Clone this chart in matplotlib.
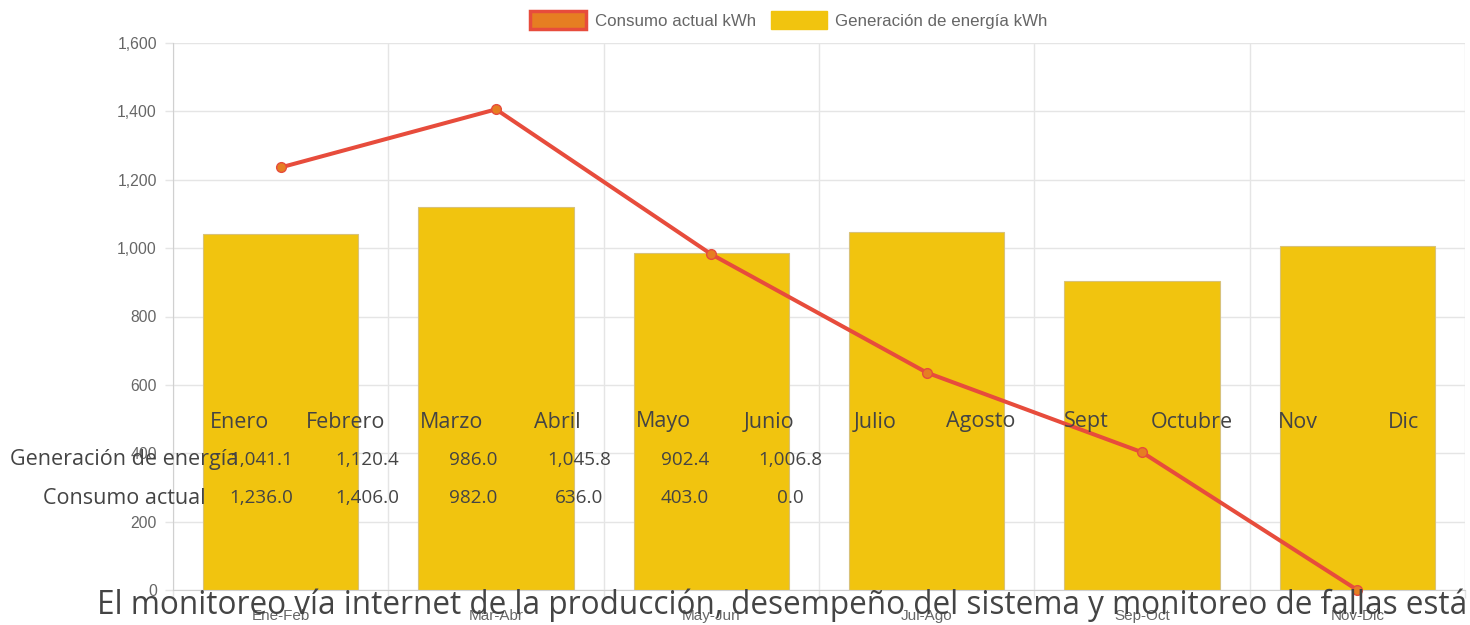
import matplotlib
matplotlib.use("Agg")
import matplotlib.pyplot as plt
from matplotlib.patches import Patch
import numpy as np

# ---- data ----
periodos = ["Ene-Feb", "Mar-Abr", "May-Jun", "Jul-Ago", "Sep-Oct", "Nov-Dic"]
generacion = [1041.1, 1120.4, 986.0, 1045.8, 902.4, 1006.8]
consumo = [1236.0, 1406.0, 982.0, 636.0, 403.0, 0.0]
meses = ["Enero", "Febrero", "Marzo", "Abril", "Mayo", "Junio",
         "Julio", "Agosto", "Sept", "Octubre", "Nov", "Dic"]
fila_labels = ["Generación de energía", "Consumo actual"]
y_ticks = [0, 200, 400, 600, 800, 1000, 1200, 1400, 1600]
leyenda = ["Consumo actual kWh", "Generación de energía kWh"]
nota = "El monitoreo vía internet de la producción, desempeño del sistema y monitoreo de fallas está"

W, H = 1470, 625
fig = plt.figure(figsize=(W / 100, H / 100), dpi=100)
ax = fig.add_axes([173 / W, 1 - 590 / H, (1465 - 173) / W, (590 - 43) / H])

TICK_FONT = "Liberation Sans"
GRID = "#e5e5e5"

x = np.arange(len(periodos))
ax.bar(x, generacion, width=0.72, color="#F1C40F", edgecolor="#d8c27a",
       linewidth=0.8, zorder=2)
ax.plot(x, consumo, color="#E74C3C", linewidth=2.9, marker="o", markersize=7,
        markerfacecolor="#E67E22", markeredgecolor="#E74C3C", markeredgewidth=1,
        zorder=3, clip_on=False)

ax.set_xlim(-0.5, len(periodos) - 0.5)
ax.set_ylim(0, 1600)
ax.set_yticks(y_ticks)
ax.set_yticklabels([f"{v:,}" for v in y_ticks], fontfamily=TICK_FONT,
                   fontsize=11.3, color="#666666")
ax.set_xticks(x)
ax.set_xticklabels(periodos, fontfamily=TICK_FONT, fontsize=11, color="#666666")
ax.set_xticks(np.arange(len(periodos) + 1) - 0.5, minor=True)
ax.tick_params(axis="x", which="major", length=0, pad=14)
ax.tick_params(axis="x", which="minor", length=5.8, color=GRID, width=1)
ax.tick_params(axis="y", length=5.8, color=GRID, width=1, pad=5.8)
ax.grid(True, axis="y", color=GRID, linewidth=1, zorder=0)
ax.grid(True, axis="x", which="minor", color=GRID, linewidth=1, zorder=0)
for s in ["top", "right"]:
    ax.spines[s].set_visible(False)
ax.spines["left"].set_color("#d0d0d0")
ax.spines["bottom"].set_color("#d0d0d0")

# legend
handles = [Patch(facecolor="#E67E22", edgecolor="#E74C3C", linewidth=2.5),
           Patch(facecolor="#F1C40F", edgecolor="#F1C40F", linewidth=1)]
fig.legend(handles, leyenda, loc="center", bbox_to_anchor=(789 / W, 1 - 20 / H),
           ncol=2, frameon=False, prop={"family": TICK_FONT, "size": 12.2},
           labelcolor="#666666", handlelength=3.3, handleheight=1.2,
           handletextpad=0.5, columnspacing=0.9)

# overlay table text
TF = "Open Sans"
TC = "#444444"
TS_TXT = 15.5
TS_NUM = 13.6


def fx(px):
    return px / W


def fy(py):
    return 1 - py / H


for i, m in enumerate(meses):
    fig.text(fx(240 + 105.8 * i), fy(422), m, ha="center", va="center",
             fontfamily=TF, fontsize=TS_TXT, color=TC, zorder=10)
rows = [generacion, consumo]
for r, (lab, vals) in enumerate(zip(fila_labels, rows)):
    yy = 460 + 38 * r
    fig.text(fx(124), fy(yy), lab, ha="center", va="center",
             fontfamily=TF, fontsize=TS_TXT, color=TC, zorder=10)
    for i, v in enumerate(vals):
        fig.text(fx(261.5 + 105.8 * i), fy(yy), f"{v:,.1f}", ha="center",
                 va="center", fontfamily=TF, fontsize=TS_NUM, color=TC, zorder=10)

fig.text(fx(97), fy(605), nota, ha="left", va="center", fontfamily=TF,
         fontsize=22.7, color=TC, zorder=10)

fig.savefig("out.png", dpi=100)
